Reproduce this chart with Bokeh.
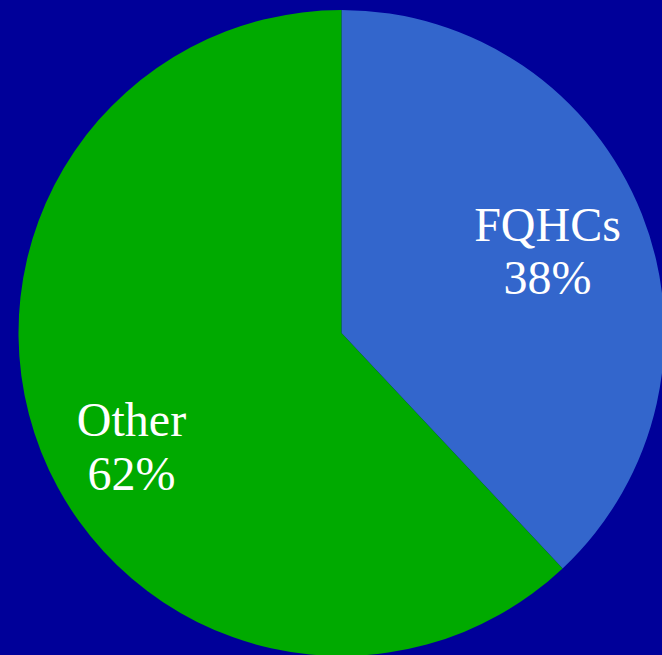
import math
from bokeh.plotting import figure
from bokeh.models import ColumnDataSource
from bokeh.core.properties import value
from bokeh.embed import file_html
from bokeh.resources import INLINE

categories = ["FQHCs", "Other"]
shares = [38, 62]
colors = ["#3366CC", "#00AA00"]

W, H = 662, 655
CX, CY, R = 341, 322.5, 323

starts, ends = [], []
acc = 0.0
for s in shares:
    a0 = math.pi / 2 - 2 * math.pi * acc / 100
    acc += s
    a1 = math.pi / 2 - 2 * math.pi * acc / 100
    starts.append(a0)
    ends.append(a1)

src = ColumnDataSource(dict(x=[CX] * 2, y=[CY] * 2, start=starts, end=ends, color=colors))

p = figure(width=W, height=H, x_range=(0, W), y_range=(0, H),
           output_backend="svg", toolbar_location=None,
           min_border=0, outline_line_color=None,
           background_fill_color="#000099", border_fill_color="#000099")
p.axis.visible = False
p.grid.visible = False

p.wedge(x="x", y="y", radius=R, start_angle="start", end_angle="end",
        direction="clock", fill_color="color", line_color=None, source=src)

label_x = [547, 131]
label_y_name = [431, 236]
label_y_pct = [378, 182]
texts = []
xs = []
ys = []
for i, c in enumerate(categories):
    texts += [c, f"{shares[i]}%"]
    xs += [label_x[i], label_x[i]]
    ys += [label_y_name[i], label_y_pct[i]]

p.text(x=xs, y=ys, text=texts, text_color="white", text_font=value("Liberation Serif"),
       text_font_size="48px", text_align="center", text_baseline="alphabetic")

html = file_html(p, INLINE)
html = html.replace("</head>", "<style>body{background:#000099;}</style></head>", 1)
open("out.html", "w").write(html)
